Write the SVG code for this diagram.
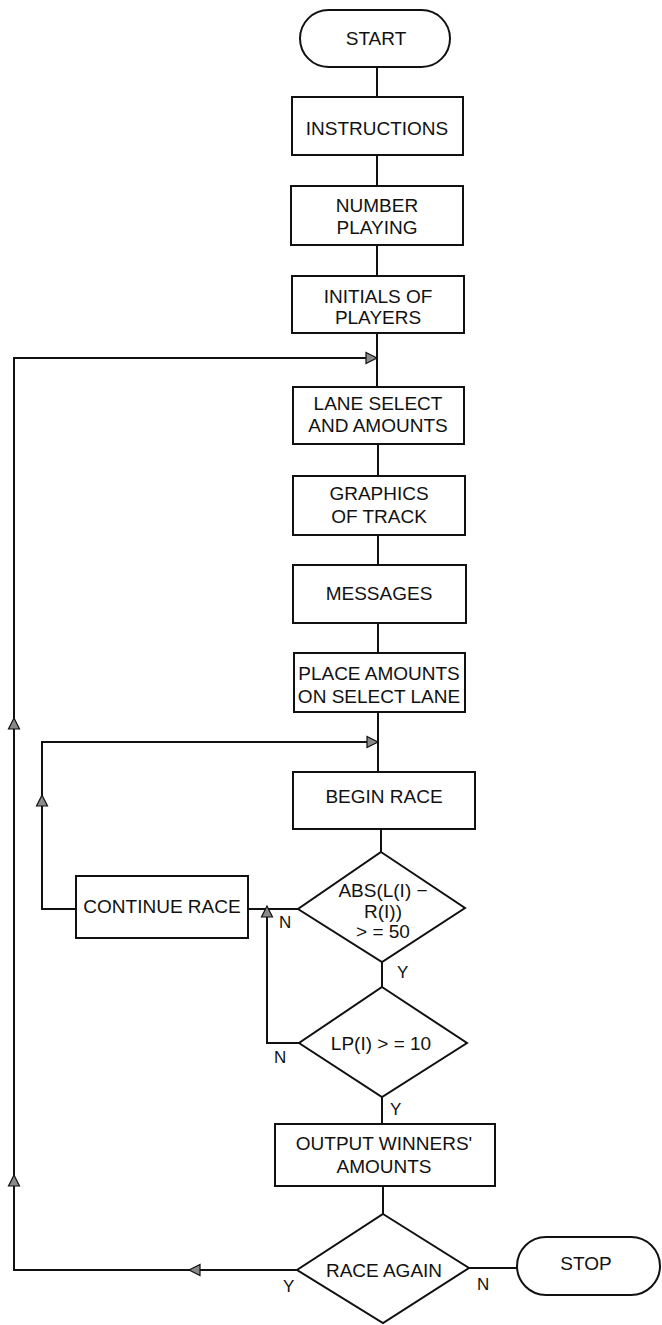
<svg xmlns="http://www.w3.org/2000/svg" width="662" height="1325" viewBox="0 0 662 1325">
<style>
.s{fill:#fff;stroke:#111;stroke-width:2}
.c{fill:none;stroke:#111;stroke-width:2}
.t{font-family:"Liberation Sans",Arial,sans-serif;font-size:19px;fill:#111;text-anchor:middle}
.l{font-family:"Liberation Sans",Arial,sans-serif;font-size:17px;fill:#111}
.a{fill:#8a8a8a;stroke:#111;stroke-width:1.2}
</style>
<defs>
<polygon id="ar" class="a" points="0,0 -11,-5.5 -11,5.5"/>
</defs>
<g id="connectors">
<path class="c" d="M377,67 V97 M377,155 V186 M377,245 V276 M377,333 V387 M378,444 V476 M378,535 V565 M378,623 V653 M378,712 V772 M381,829 V852 M382,962 V987 M382,1097 V1124 M383,1186 V1214"/>
<path class="c" d="M297,1270 H14 V358 H377"/>
<path class="c" d="M76,909 H42 V742 H378"/>
<path class="c" d="M248,909 H298"/>
<path class="c" d="M299,1043 H267 V909"/>
<path class="c" d="M469,1268 H517"/>
<use href="#ar" transform="translate(377,358)"/>
<use href="#ar" transform="translate(378,742)"/>
<use href="#ar" transform="translate(42,795) rotate(-90)"/>
<use href="#ar" transform="translate(14,718) rotate(-90)"/>
<use href="#ar" transform="translate(14,1175) rotate(-90)"/>
<use href="#ar" transform="translate(267,906) rotate(-90)"/>
<use href="#ar" transform="translate(189,1270) rotate(180)"/>
</g>
<g id="start"><rect class="s" x="300" y="10" width="150" height="57" rx="28.5"/><text class="t" x="376" y="45">START</text></g>
<g id="instructions"><rect class="s" x="292" y="97" width="171" height="58"/><text class="t" x="377" y="135">INSTRUCTIONS</text></g>
<g id="number"><rect class="s" x="291" y="186" width="172" height="59"/><text class="t" x="377" y="212">NUMBER</text><text class="t" x="377" y="234">PLAYING</text></g>
<g id="initials"><rect class="s" x="292" y="276" width="172" height="57"/><text class="t" x="378" y="303">INITIALS OF</text><text class="t" x="378" y="324">PLAYERS</text></g>
<g id="lane"><rect class="s" x="293" y="387" width="171" height="57"/><text class="t" x="378" y="410">LANE SELECT</text><text class="t" x="378" y="432">AND AMOUNTS</text></g>
<g id="graphics"><rect class="s" x="293" y="476" width="172" height="59"/><text class="t" x="379" y="500">GRAPHICS</text><text class="t" x="379" y="523">OF TRACK</text></g>
<g id="messages"><rect class="s" x="293" y="565" width="173" height="58"/><text class="t" x="379" y="600">MESSAGES</text></g>
<g id="place"><rect class="s" x="294" y="653" width="171" height="59"/><text class="t" x="379" y="680">PLACE AMOUNTS</text><text class="t" x="379" y="703">ON SELECT LANE</text></g>
<g id="begin"><rect class="s" x="293" y="772" width="182" height="57"/><text class="t" x="384" y="803">BEGIN RACE</text></g>
<g id="abs"><polygon class="s" points="381,852 465,908 382,962 298,909"/><text class="t" x="383" y="897">ABS(L(I) −</text><text class="t" x="383" y="918">R(I))</text><text class="t" x="383" y="938">&gt; = 50</text></g>
<g id="continue"><rect class="s" x="76" y="876" width="172" height="62"/><text class="t" x="162" y="913">CONTINUE RACE</text></g>
<g id="lp"><polygon class="s" points="382,987 467,1043 382,1097 299,1043"/><text class="t" x="381" y="1050">LP(I) &gt; = 10</text></g>
<g id="output"><rect class="s" x="275" y="1124" width="220" height="62"/><text class="t" x="384" y="1150">OUTPUT WINNERS'</text><text class="t" x="384" y="1173">AMOUNTS</text></g>
<g id="again"><polygon class="s" points="383,1214 469,1268 383,1323 297,1270"/><text class="t" x="384" y="1277">RACE AGAIN</text></g>
<g id="stop"><rect class="s" x="517" y="1237" width="143" height="58" rx="29"/><text class="t" x="586" y="1270">STOP</text></g>
<g id="labels">
<text class="l" x="279" y="928">N</text>
<text class="l" x="274" y="1063">N</text>
<text class="l" x="397" y="978">Y</text>
<text class="l" x="390" y="1115">Y</text>
<text class="l" x="283" y="1292">Y</text>
<text class="l" x="477" y="1290">N</text>
</g>
</svg>
